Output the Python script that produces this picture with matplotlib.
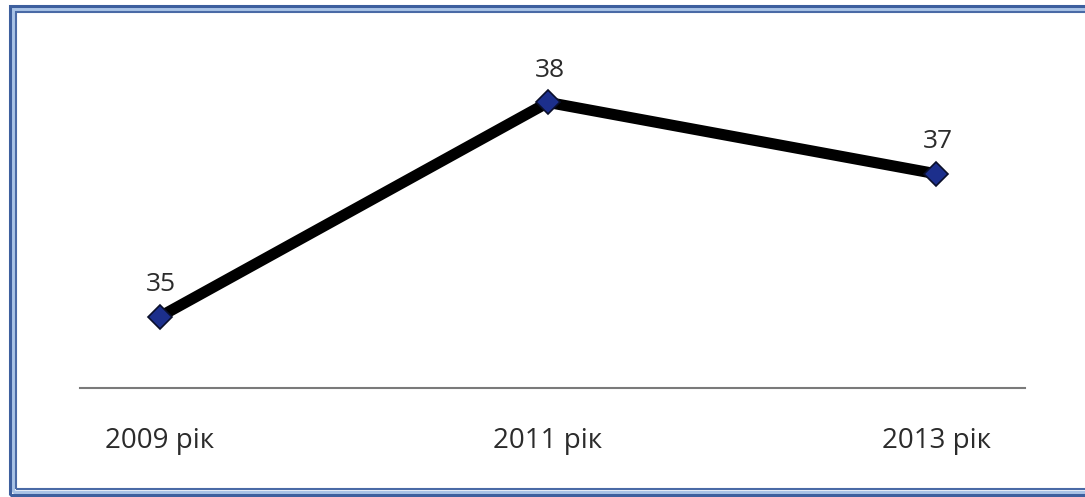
import matplotlib
matplotlib.use("Agg")
import matplotlib.pyplot as plt
from matplotlib.patches import Rectangle

# chart data
years = ['2009 рік', '2011 рік', '2013 рік']
values = [35, 38, 37]

W, H = 1085, 497
plt.rcParams['font.family'] = ['Open Sans', 'DejaVu Sans']

fig = plt.figure(figsize=(W / 100, H / 100), dpi=100)
fig.patch.set_facecolor('white')

# axes placed so that the baseline sits at y=388 px and spans x 80..1025 px
ax = fig.add_axes([80 / W, (H - 388) / H, (1025 - 80) / W, (388 - 31) / H])
ax.set_facecolor('none')

x = list(range(len(years)))
ax.plot(x, values, color='black', linewidth=8, solid_joinstyle='miter', zorder=2)
ax.plot(x, values, linestyle='none', marker='D', markersize=12.5,
        markerfacecolor='#1c2f8c', markeredgecolor='#0a0f2a', markeredgewidth=1.2, zorder=3)

for xi, v in zip(x, values):
    ax.annotate(f'{v}', xy=(xi, v), xytext=(1, 23), textcoords='offset points',
                ha='center', va='center', fontsize=19, color='#2b2b2b')

ax.set_xlim(-0.206, 2.229)
ax.set_ylim(34, 39)

for side in ['top', 'right', 'left']:
    ax.spines[side].set_visible(False)
ax.spines['bottom'].set_color('#7a7a7a')
ax.spines['bottom'].set_linewidth(1.5)

ax.set_xticks(x)
ax.set_xticklabels(years, fontsize=20, color='#2b2b2b')
ax.tick_params(axis='x', length=0, pad=28)
ax.set_yticks([])

# double blue frame of the scanned page
outer = Rectangle((10 / W, 2 / H), 1.2, (H - 8) / H, transform=fig.transFigure,
                  fill=False, edgecolor='#3d5f9e', linewidth=2.2)
band = Rectangle((13 / W, 5 / H), 1.2, (H - 14) / H, transform=fig.transFigure,
                 fill=False, edgecolor='#a9c3e6', linewidth=2.5)
inner = Rectangle((16 / W, 8 / H), 1.2, (H - 20) / H, transform=fig.transFigure,
                  fill=False, edgecolor='#4a6aa6', linewidth=1.5)
for r in (band, outer, inner):
    fig.add_artist(r)

fig.savefig('out.png', dpi=100, facecolor='white')
